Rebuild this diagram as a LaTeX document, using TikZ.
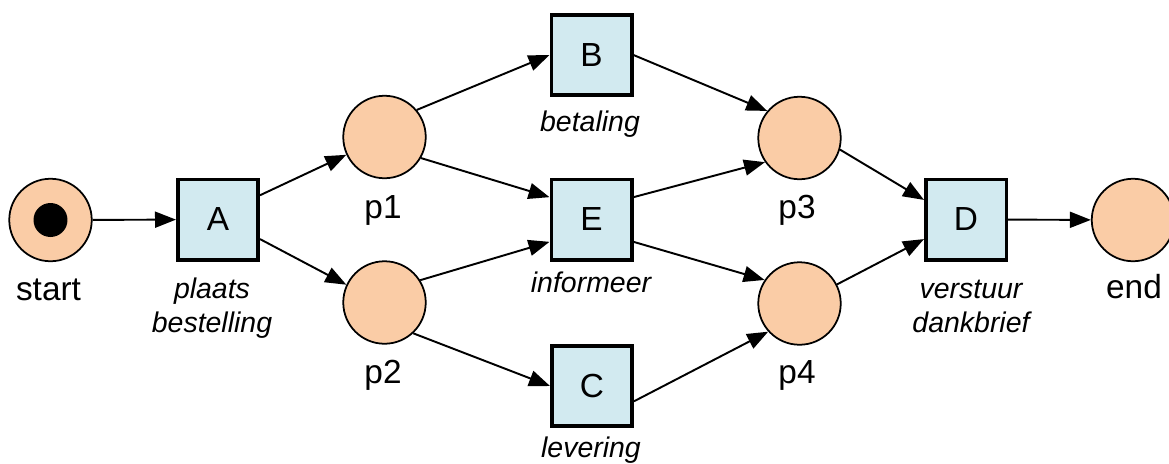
\documentclass[tikz,border=0pt]{standalone}
\usepackage{fontspec}
\setmainfont{Liberation Sans}
\usepackage{tikz}
\usetikzlibrary{positioning, arrows.meta}
\definecolor{plaatsKleur}{RGB}{250, 204, 166}
\definecolor{transitieKleur}{RGB}{210, 234, 240}

\begin{document}
\begin{tikzpicture}[
    x=0.02cm, y=-0.02cm,
    plaats/.style={
        circle,
        draw=black,
        line width=1pt,
        fill=plaatsKleur,
        minimum size=1.65cm,
        inner sep=0pt
    },
    transitie/.style={
        rectangle,
        draw=black,
        line width=2pt,
        fill=transitieKleur,
        minimum size=1.61cm,
        inner sep=0pt,
        font=\fontsize{19}{23}\selectfont
    },
    token/.style={
        circle,
        fill=black,
        minimum size=0.68cm,
        inner sep=0pt
    },
    naam/.style={
        anchor=base,
        inner sep=0pt,
        font=\fontsize{19}{23}\selectfont
    },
    taak/.style={
        anchor=base,
        inner sep=0pt,
        align=center,
        font=\fontsize{16.2}{18.8}\selectfont\itshape
    },
    pijl/.style={
        -{Triangle[length=0.42cm, width=0.32cm]},
        line width=1.1pt
    }
]
\useasboundingbox (0,0) rectangle (1169,463);

% plaatsen
\node[plaats] (start) at (50.5,220) {};
\node[token] (tok) at (start) {};
\node[plaats] (p1) at (384.5,137) {};
\node[plaats] (p2) at (384.5,302.5) {};
\node[plaats] (p3) at (799.5,138) {};
\node[plaats] (p4) at (799.5,303.5) {};
\node[plaats] (eind) at (1133,220) {};

% transities
\node[transitie] (A) at (218,219.5) {A};
\node[transitie] (B) at (591.5,55) {B};
\node[transitie] (E) at (591.5,219.5) {E};
\node[transitie] (C) at (592,386) {C};
\node[transitie] (D) at (966,219.5) {D};

% namen
\node[naam] (startnaam) at (48.5,300) {start};
\node[naam] (p1naam) at (383,218) {p1};
\node[naam] (p2naam) at (383,383) {p2};
\node[naam] (p3naam) at (797,218) {p3};
\node[naam] (p4naam) at (797,383) {p4};
\node[naam] (eindnaam) at (1134,298) {end};

% base = onderste regel
\node[taak] (Ataak) at (212,332) {plaats\\bestelling};
\node[taak] (Btaak) at (590,131) {betaling};
\node[taak] (Etaak) at (591,292) {informeer};
\node[taak] (Ctaak) at (591,457) {levering};
\node[taak] (Dtaak) at (971,332) {verstuur\\dankbrief};

% bogen
\draw[pijl] (start) -- (A);
\draw[pijl] (A.30) -- (p1.205);
\draw[pijl] (A.-25) -- (p2.155);
\draw[pijl] (p1.40) -- (B.west);
\draw[pijl] (p1.-30) -- (E.152);
\draw[pijl] (p2.32) -- (E.208);
\draw[pijl] (p2.-47) -- (C.west);
\draw[pijl] (B.east) -- (p3.140);
\draw[pijl] (E.28) -- (p3.215);
\draw[pijl] (E.-28) -- (p4.146);
\draw[pijl] (C.-20) -- (p4.222);
\draw[pijl] (p3.-16) -- (D.155);
\draw[pijl] (p4.27) -- (D.205);
\draw[pijl] (D) -- (eind);

\end{tikzpicture}
\end{document}
